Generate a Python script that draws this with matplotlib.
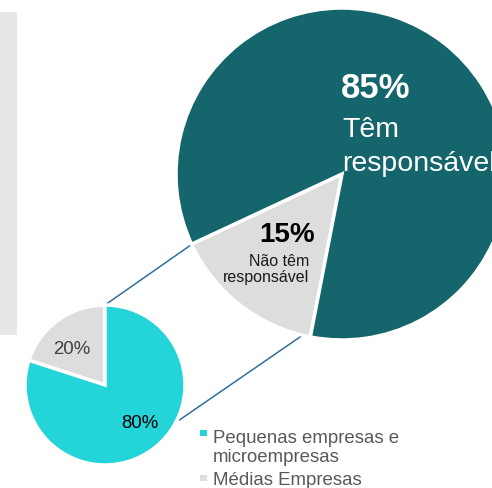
#! /usr/bin/env python3
# coding: utf-8

import numpy as np
import matplotlib
matplotlib.use('Agg')
import matplotlib.pyplot as plt
from matplotlib.patches import Rectangle

plt.rcParams['font.family'] = ['Liberation Sans', 'DejaVu Sans']

# data
big_labels = ['Não têm\nresponsável', 'Têm\nresponsável']
big_values = [15, 85]
small_labels = ['Médias Empresas', 'Pequenas empresas e\nmicroempresas']
small_values = [20, 80]

teal = '#14666c'
gray = '#dddddd'
cyan = '#23d4d9'
line_c = '#2e6fa0'

W, H = 492, 488
fig = plt.figure(figsize=(W / 100, H / 100), dpi=100)
ax = fig.add_axes([0, 0, 1, 1])


def py(y):
    # pixel row (from top) -> data y
    return H - y


# grey band on the left
ax.add_patch(Rectangle((0, py(335)), 17, 323, color='#e7e7e7', lw=0))

big, _ = ax.pie(big_values, colors=[gray, teal], startangle=205,
                center=(342, py(174)), radius=166,
                wedgeprops=dict(edgecolor='white', linewidth=2.5))
small, _ = ax.pie(small_values, colors=[gray, cyan], startangle=90,
                  center=(105, py(385)), radius=80,
                  wedgeprops=dict(edgecolor='white', linewidth=2.5))


def edge_pt(w, ang, frac=1.0):
    a = np.deg2rad(ang)
    return (w.center[0] + frac * w.r * np.cos(a),
            w.center[1] + frac * w.r * np.sin(a))


# connector lines
p1 = edge_pt(small[0], small[0].theta1)
q1 = edge_pt(big[0], big[0].theta1, 0.99)
p2 = edge_pt(small[1], -25, 1.03)
q2 = edge_pt(big[0], big[0].theta2, 0.95)
ax.plot([p1[0], q1[0]], [p1[1], q1[1]], color=line_c, lw=1.1, zorder=0)
ax.plot([p2[0], q2[0]], [p2[1], q2[1]], color=line_c, lw=1.1, zorder=0)

# labels big pie
ax.text(341, py(98), f'{big_values[1]}%', color='white', fontsize=25,
        fontweight='bold', ha='left', va='baseline')
ax.text(342, py(171), big_labels[1], color='white', fontsize=20.5,
        ha='left', va='baseline', linespacing=1.38)
ax.text(287, py(242), f'{big_values[0]}%', color='black', fontsize=20,
        fontweight='bold', ha='center', va='baseline')
ax.text(309, py(282), big_labels[0], color='#1a1a1a', fontsize=11.5,
        ha='right', va='baseline', multialignment='right', linespacing=1.05)

# labels small pie
ax.text(72, py(354), f'{small_values[0]}%', color='#404040', fontsize=13.4,
        ha='center', va='baseline')
ax.text(139.5, py(428), f'{small_values[1]}%', color='black', fontsize=13.4,
        ha='center', va='baseline')

# legend
leg_colors = [cyan, gray]
leg_labels = [small_labels[1], small_labels[0]]
leg_y = [440, 485]
for c, lab, y in zip(leg_colors, leg_labels, leg_y):
    ax.add_patch(Rectangle((200, py(y - 4)), 6.5, 6.5, color=c, lw=0))
    top = lab.count('\n') * 22.5
    ax.text(213, py(y + top), lab, color='#595959', fontsize=13.4,
            ha='left', va='baseline', linespacing=1.2)

ax.set_xlim(0, W)
ax.set_ylim(0, H)
ax.set_aspect('auto')
ax.set_axis_off()

fig.savefig('out.png', dpi=100)
